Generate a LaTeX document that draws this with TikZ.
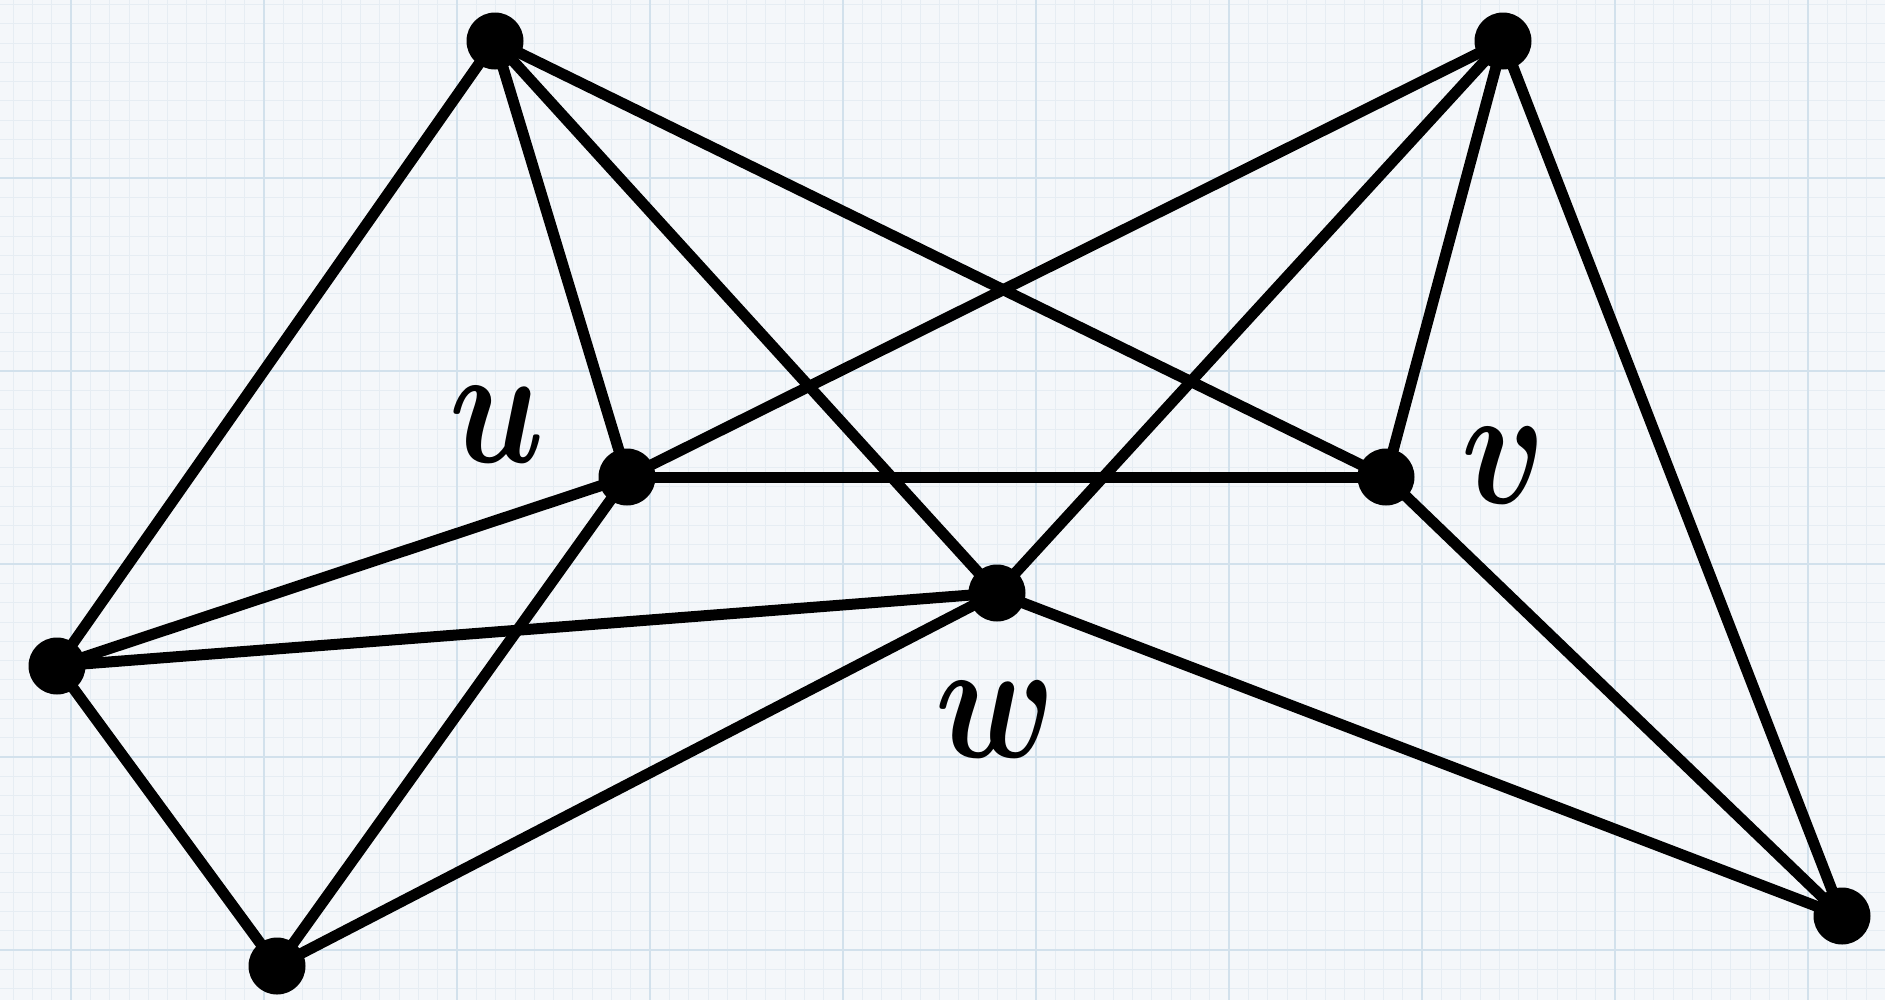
\documentclass[tikz,border=0pt]{standalone}
\begin{document}
\begin{tikzpicture}[x=0.1mm,y=-0.1mm,
  vertex/.style={circle,fill=black,inner sep=0pt,minimum size=5.7mm},
  edge/.style={line width=1.1mm,black},
  vlabel/.style={font=\Huge\boldmath,inner sep=0pt}]
% paper background with fine and major grid lines
\fill[fill={rgb,255:red,244;green,247;blue,250}] (0,0) rectangle (1885,1000);
\useasboundingbox (0,0) rectangle (1885,1000);
\foreach \i in {-4,...,100}{
  \draw[line width=0.08mm,draw={rgb,255:red,230;green,237;blue,243}] ({71+19.3*\i},0) -- ({71+19.3*\i},1000);
}
\foreach \i in {-10,...,43}{
  \draw[line width=0.08mm,draw={rgb,255:red,230;green,237;blue,243}] (0,{178+19.3*\i}) -- (1885,{178+19.3*\i});
}
\foreach \i in {0,...,9}{
  \draw[line width=0.25mm,draw={rgb,255:red,210;green,225;blue,236}] ({71+193*\i},0) -- ({71+193*\i},1000);
}
\foreach \i in {-1,...,4}{
  \draw[line width=0.25mm,draw={rgb,255:red,210;green,225;blue,236}] (0,{178+193*\i}) -- (1885,{178+193*\i});
}
% vertices
\node[vertex] (a) at (495,41) {};
\node[vertex] (b) at (1503,41) {};
\node[vertex] (u) at (627,477) {};
\node[vertex] (v) at (1386,477) {};
\node[vertex] (w) at (997,593) {};
\node[vertex] (l) at (57,666) {};
\node[vertex] (p) at (277,966) {};
\node[vertex] (q) at (1842,916) {};
% edges
\foreach \s/\t in {a/l,a/u,a/w,a/v,b/u,b/w,b/v,b/q,u/v,u/l,u/p,w/l,w/p,w/q,v/q,l/p}{
  \draw[edge] (\s.center) -- (\t.center);
}
% labels
\node[vlabel] (ul) at (497,425) {\scalebox{1.6}[1.95]{$u$}};
\node[vlabel] (vl) at (1504,466) {\scalebox{1.6}[1.95]{$v$}};
\node[vlabel] (wl) at (996,720) {\scalebox{1.6}[1.95]{$w$}};
\end{tikzpicture}
\end{document}
